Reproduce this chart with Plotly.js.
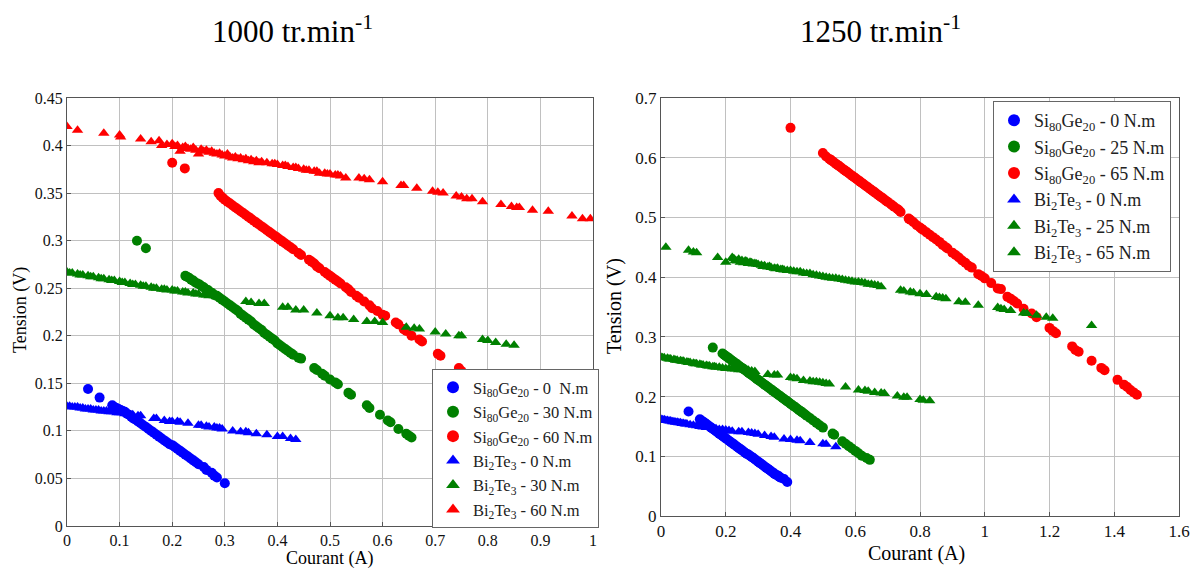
<!DOCTYPE html>
<html>
<head>
<meta charset="utf-8">
<script src="https://cdn.plot.ly/plotly-3.0.1.min.js"></script>
<style>html,body{margin:0;padding:0;background:#fff;}#chart{width:1191px;height:570px;}</style>
</head>
<body>
<div id="chart"></div>
<script>
// ---------- 1000 tr.min-1 ----------
const titleLeft = '1000 tr.min<sup>-1</sup>';
const titleRight = '1250 tr.min<sup>-1</sup>';
const xTitle = 'Courant (A)';
const yTitle = 'Tension (V)';

const namesLeft = ['Si<sub>80</sub>Ge<sub>20</sub> - 0  N.m','Si<sub>80</sub>Ge<sub>20</sub> - 30 N.m','Si<sub>80</sub>Ge<sub>20</sub> - 60 N.m','Bi<sub>2</sub>Te<sub>3</sub> - 0 N.m','Bi<sub>2</sub>Te<sub>3</sub> - 30 N.m','Bi<sub>2</sub>Te<sub>3</sub> - 60 N.m'];
const namesRight = ['Si<sub>80</sub>Ge<sub>20</sub> - 0 N.m','Si<sub>80</sub>Ge<sub>20</sub> - 25 N.m','Si<sub>80</sub>Ge<sub>20</sub> - 65 N.m','Bi<sub>2</sub>Te<sub>3</sub> - 0 N.m','Bi<sub>2</sub>Te<sub>3</sub> - 25 N.m','Bi<sub>2</sub>Te<sub>3</sub> - 65 N.m'];

const L_sg0_x = [0.04,0.062,0.086,0.09,0.094,0.098,0.102,0.106,0.11,0.114,0.118,0.122,0.126,0.13,0.135,0.14,0.145,0.15,0.155,0.16,0.165,0.17,0.175,0.18,0.185,0.19,0.195,0.2,0.205,0.21,0.215,0.22,0.225,0.23,0.235,0.24,0.245,0.25,0.26,0.265,0.275,0.28,0.285,0.3];
const L_sg0_y = [0.144,0.135,0.127,0.125,0.124,0.123,0.122,0.121,0.12,0.118,0.117,0.115,0.113,0.112,0.11,0.108,0.106,0.104,0.102,0.1,0.098,0.096,0.094,0.092,0.09,0.088,0.086,0.085,0.083,0.081,0.079,0.077,0.075,0.073,0.071,0.069,0.067,0.065,0.062,0.059,0.056,0.053,0.051,0.045];

const L_sg30_x = [0.133,0.15,0.225,0.228,0.232,0.236,0.24,0.244,0.248,0.252,0.256,0.26,0.264,0.268,0.272,0.276,0.28,0.285,0.29,0.295,0.3,0.305,0.31,0.315,0.32,0.325,0.33,0.335,0.34,0.345,0.35,0.355,0.36,0.365,0.37,0.375,0.38,0.385,0.39,0.395,0.4,0.405,0.41,0.415,0.42,0.425,0.43,0.44,0.445,0.47,0.475,0.485,0.49,0.5,0.51,0.515,0.535,0.54,0.57,0.575,0.595,0.61,0.615,0.63,0.645,0.65,0.655];
const L_sg30_y = [0.300,0.292,0.263,0.262,0.261,0.259,0.258,0.256,0.255,0.254,0.252,0.251,0.249,0.248,0.246,0.245,0.243,0.242,0.240,0.238,0.236,0.234,0.232,0.230,0.228,0.226,0.223,0.221,0.219,0.217,0.215,0.212,0.210,0.208,0.206,0.203,0.201,0.199,0.197,0.195,0.192,0.190,0.188,0.186,0.184,0.182,0.180,0.177,0.176,0.166,0.164,0.160,0.158,0.154,0.151,0.149,0.140,0.138,0.127,0.124,0.117,0.111,0.109,0.102,0.097,0.095,0.093];

const L_sg60_x = [0.2,0.224,0.288,0.292,0.296,0.3,0.305,0.31,0.315,0.32,0.325,0.33,0.335,0.34,0.345,0.35,0.355,0.36,0.365,0.37,0.375,0.38,0.385,0.39,0.395,0.4,0.405,0.41,0.415,0.42,0.425,0.43,0.44,0.445,0.46,0.465,0.47,0.475,0.48,0.49,0.495,0.5,0.505,0.51,0.515,0.52,0.53,0.535,0.54,0.55,0.555,0.565,0.575,0.58,0.59,0.6,0.605,0.625,0.63,0.64,0.645,0.655,0.67,0.675,0.705,0.71,0.745,0.75];
const L_sg60_y = [0.382,0.376,0.350,0.347,0.345,0.343,0.341,0.339,0.337,0.335,0.333,0.331,0.329,0.327,0.325,0.323,0.321,0.319,0.317,0.315,0.313,0.311,0.309,0.307,0.305,0.303,0.301,0.299,0.297,0.295,0.293,0.291,0.287,0.285,0.280,0.278,0.276,0.273,0.271,0.267,0.265,0.263,0.261,0.259,0.257,0.255,0.251,0.249,0.246,0.242,0.240,0.236,0.232,0.229,0.226,0.222,0.221,0.214,0.212,0.207,0.205,0.200,0.196,0.194,0.181,0.179,0.166,0.163];

const L_bt0_x = [0,0.005,0.01,0.015,0.02,0.025,0.03,0.035,0.04,0.045,0.05,0.055,0.06,0.065,0.07,0.075,0.08,0.085,0.09,0.095,0.1,0.105,0.11,0.115,0.125,0.135,0.14,0.165,0.17,0.185,0.195,0.2,0.21,0.215,0.23,0.25,0.255,0.265,0.27,0.28,0.285,0.29,0.295,0.315,0.33,0.34,0.345,0.36,0.38,0.4,0.41,0.425,0.435];
const L_bt0_y = [0.126,0.126,0.125,0.125,0.125,0.124,0.124,0.123,0.123,0.123,0.122,0.122,0.122,0.121,0.121,0.121,0.12,0.12,0.12,0.119,0.119,0.119,0.118,0.118,0.117,0.116,0.116,0.113,0.113,0.111,0.11,0.11,0.11,0.109,0.108,0.106,0.106,0.105,0.104,0.104,0.103,0.103,0.102,0.1,0.099,0.099,0.098,0.097,0.096,0.094,0.094,0.092,0.091];

const L_bt30_x = [0,0.005,0.01,0.02,0.025,0.03,0.04,0.045,0.05,0.06,0.065,0.07,0.08,0.085,0.09,0.1,0.105,0.11,0.12,0.125,0.13,0.14,0.145,0.15,0.16,0.165,0.17,0.18,0.185,0.19,0.2,0.205,0.21,0.22,0.225,0.23,0.24,0.245,0.25,0.26,0.265,0.27,0.28,0.285,0.29,0.34,0.35,0.365,0.375,0.41,0.42,0.435,0.45,0.475,0.5,0.515,0.525,0.545,0.57,0.585,0.6,0.645,0.66,0.67,0.7,0.72,0.745,0.75,0.79,0.8,0.815,0.835,0.85];
const L_bt30_y = [0.267,0.266,0.266,0.265,0.264,0.264,0.263,0.262,0.262,0.261,0.26,0.26,0.259,0.258,0.258,0.257,0.256,0.256,0.255,0.254,0.254,0.253,0.252,0.252,0.251,0.25,0.25,0.249,0.249,0.248,0.248,0.247,0.247,0.246,0.246,0.245,0.245,0.244,0.244,0.243,0.243,0.242,0.242,0.241,0.24,0.236,0.235,0.234,0.234,0.230,0.230,0.227,0.227,0.224,0.221,0.219,0.219,0.217,0.215,0.215,0.214,0.209,0.208,0.207,0.204,0.202,0.200,0.200,0.196,0.195,0.193,0.191,0.190];

const L_bt60_x = [0,0.02,0.07,0.1,0.102,0.14,0.16,0.175,0.18,0.19,0.2,0.205,0.21,0.215,0.22,0.225,0.23,0.235,0.24,0.245,0.25,0.255,0.26,0.265,0.27,0.275,0.28,0.285,0.29,0.295,0.3,0.305,0.31,0.315,0.32,0.325,0.33,0.335,0.34,0.345,0.35,0.355,0.36,0.365,0.37,0.38,0.39,0.395,0.4,0.41,0.415,0.42,0.43,0.435,0.44,0.45,0.455,0.46,0.47,0.475,0.48,0.49,0.495,0.5,0.51,0.515,0.52,0.53,0.555,0.565,0.575,0.6,0.635,0.64,0.665,0.695,0.705,0.715,0.74,0.75,0.76,0.77,0.79,0.825,0.845,0.855,0.86,0.885,0.915,0.96,0.98,0.995];
const L_bt60_y = [0.420,0.416,0.413,0.411,0.409,0.407,0.404,0.405,0.400,0.401,0.402,0.399,0.400,0.394,0.398,0.399,0.397,0.396,0.398,0.395,0.391,0.396,0.394,0.395,0.393,0.394,0.392,0.391,0.392,0.390,0.389,0.391,0.388,0.387,0.388,0.386,0.387,0.385,0.386,0.384,0.385,0.383,0.384,0.382,0.383,0.382,0.381,0.381,0.380,0.379,0.379,0.378,0.377,0.377,0.376,0.375,0.374,0.374,0.373,0.373,0.371,0.371,0.370,0.370,0.369,0.369,0.368,0.366,0.366,0.365,0.364,0.362,0.358,0.358,0.355,0.352,0.351,0.350,0.347,0.346,0.344,0.344,0.341,0.338,0.336,0.335,0.335,0.332,0.331,0.326,0.323,0.323];

// ---------- 1250 tr.min-1 ----------
const R_sg0_x = [0.085,0.12,0.125,0.13,0.135,0.14,0.145,0.15,0.155,0.16,0.165,0.17,0.175,0.18,0.185,0.19,0.195,0.2,0.205,0.21,0.215,0.22,0.225,0.23,0.235,0.24,0.245,0.25,0.255,0.26,0.265,0.27,0.275,0.28,0.285,0.29,0.295,0.3,0.305,0.31,0.315,0.32,0.325,0.33,0.335,0.34,0.345,0.35,0.355,0.36,0.365,0.37,0.38,0.39];
const R_sg0_y = [0.175,0.162,0.160,0.158,0.156,0.154,0.152,0.150,0.148,0.146,0.144,0.142,0.140,0.138,0.136,0.134,0.132,0.130,0.128,0.126,0.124,0.122,0.120,0.118,0.116,0.114,0.112,0.110,0.108,0.106,0.104,0.103,0.101,0.099,0.097,0.095,0.093,0.091,0.089,0.087,0.085,0.083,0.081,0.079,0.077,0.075,0.073,0.071,0.069,0.068,0.066,0.064,0.062,0.057];

const R_sg25_x = [0.16,0.19,0.195,0.2,0.205,0.21,0.215,0.22,0.225,0.23,0.235,0.24,0.245,0.25,0.255,0.26,0.265,0.27,0.275,0.28,0.285,0.29,0.295,0.3,0.305,0.31,0.315,0.32,0.325,0.33,0.335,0.34,0.345,0.35,0.355,0.36,0.365,0.37,0.375,0.38,0.385,0.39,0.395,0.4,0.405,0.41,0.415,0.42,0.425,0.43,0.435,0.44,0.445,0.45,0.46,0.47,0.48,0.49,0.5,0.53,0.535,0.56,0.57,0.58,0.59,0.6,0.61,0.62,0.635,0.645];
const R_sg25_y = [0.282,0.272,0.270,0.268,0.266,0.264,0.262,0.260,0.258,0.256,0.254,0.252,0.250,0.248,0.246,0.244,0.242,0.240,0.238,0.236,0.234,0.232,0.230,0.228,0.226,0.224,0.222,0.220,0.218,0.216,0.214,0.212,0.210,0.208,0.206,0.204,0.202,0.200,0.198,0.196,0.194,0.192,0.190,0.188,0.186,0.184,0.182,0.180,0.178,0.176,0.174,0.172,0.170,0.168,0.164,0.160,0.156,0.152,0.148,0.138,0.136,0.125,0.121,0.117,0.113,0.109,0.105,0.101,0.097,0.094];

const R_sg65_x = [0.4,0.5,0.51,0.52,0.525,0.53,0.535,0.54,0.545,0.55,0.555,0.56,0.565,0.57,0.575,0.58,0.585,0.59,0.595,0.6,0.605,0.61,0.615,0.62,0.625,0.63,0.635,0.64,0.645,0.65,0.655,0.66,0.665,0.67,0.675,0.68,0.685,0.69,0.695,0.7,0.71,0.715,0.72,0.73,0.735,0.74,0.765,0.77,0.78,0.79,0.8,0.805,0.81,0.82,0.83,0.84,0.85,0.86,0.87,0.88,0.885,0.9,0.91,0.92,0.93,0.94,0.95,0.96,0.98,0.99,1.0,1.02,1.04,1.05,1.07,1.08,1.09,1.1,1.12,1.145,1.16,1.2,1.21,1.22,1.27,1.28,1.29,1.33,1.36,1.37,1.41,1.43,1.44,1.45,1.46,1.47];
const R_sg65_y = [0.650,0.608,0.602,0.598,0.596,0.594,0.592,0.590,0.588,0.586,0.584,0.582,0.580,0.578,0.576,0.574,0.572,0.570,0.568,0.566,0.564,0.562,0.560,0.558,0.556,0.554,0.552,0.550,0.548,0.546,0.544,0.542,0.540,0.538,0.536,0.534,0.532,0.530,0.528,0.526,0.522,0.520,0.518,0.514,0.512,0.509,0.498,0.496,0.492,0.487,0.483,0.481,0.479,0.475,0.471,0.467,0.463,0.459,0.454,0.450,0.448,0.441,0.437,0.433,0.428,0.424,0.419,0.416,0.405,0.402,0.398,0.390,0.381,0.380,0.367,0.364,0.360,0.356,0.347,0.339,0.333,0.315,0.310,0.306,0.284,0.278,0.275,0.260,0.248,0.244,0.228,0.220,0.216,0.211,0.207,0.203];

const R_bt0_x = [0,0.005,0.01,0.015,0.02,0.025,0.03,0.035,0.04,0.045,0.05,0.055,0.06,0.065,0.07,0.075,0.08,0.09,0.1,0.11,0.12,0.13,0.14,0.15,0.16,0.17,0.18,0.19,0.2,0.21,0.22,0.24,0.25,0.27,0.28,0.29,0.3,0.32,0.34,0.35,0.38,0.4,0.42,0.43,0.46,0.5,0.51,0.54];
const R_bt0_y = [0.162,0.161,0.161,0.160,0.160,0.159,0.159,0.158,0.158,0.157,0.157,0.156,0.156,0.155,0.155,0.154,0.154,0.153,0.152,0.151,0.150,0.149,0.148,0.148,0.147,0.146,0.145,0.145,0.144,0.143,0.142,0.141,0.141,0.140,0.139,0.138,0.137,0.135,0.133,0.132,0.129,0.128,0.127,0.126,0.123,0.121,0.120,0.116];

const R_bt25_x = [0,0.005,0.01,0.02,0.025,0.03,0.04,0.045,0.05,0.06,0.065,0.07,0.08,0.085,0.09,0.1,0.105,0.11,0.12,0.125,0.13,0.14,0.145,0.15,0.16,0.165,0.17,0.18,0.19,0.2,0.21,0.22,0.23,0.24,0.25,0.26,0.27,0.28,0.29,0.33,0.35,0.36,0.4,0.41,0.42,0.44,0.46,0.47,0.48,0.49,0.5,0.51,0.52,0.57,0.61,0.63,0.64,0.66,0.68,0.69,0.73,0.75,0.76,0.8,0.81,0.83];
const R_bt25_y = [0.266,0.265,0.265,0.264,0.263,0.263,0.262,0.261,0.261,0.260,0.259,0.259,0.258,0.257,0.257,0.256,0.255,0.255,0.254,0.253,0.253,0.252,0.251,0.251,0.250,0.250,0.249,0.249,0.248,0.247,0.247,0.246,0.246,0.245,0.245,0.244,0.244,0.243,0.242,0.237,0.236,0.236,0.232,0.231,0.230,0.227,0.226,0.225,0.225,0.224,0.223,0.222,0.221,0.216,0.211,0.210,0.209,0.207,0.206,0.205,0.201,0.199,0.199,0.195,0.194,0.193];

const R_bt65_x = [0.015,0.085,0.1,0.11,0.175,0.2,0.22,0.225,0.23,0.235,0.24,0.245,0.25,0.255,0.26,0.265,0.27,0.275,0.28,0.285,0.29,0.295,0.3,0.31,0.315,0.32,0.33,0.335,0.34,0.35,0.355,0.36,0.37,0.375,0.38,0.39,0.4,0.41,0.42,0.43,0.44,0.45,0.46,0.47,0.48,0.49,0.5,0.51,0.52,0.53,0.54,0.55,0.56,0.57,0.58,0.59,0.6,0.61,0.62,0.63,0.64,0.65,0.66,0.67,0.68,0.74,0.75,0.77,0.78,0.8,0.82,0.85,0.86,0.87,0.88,0.92,0.94,0.98,1.04,1.05,1.06,1.08,1.12,1.13,1.16,1.19,1.21,1.33];
const R_bt65_y = [0.450,0.445,0.442,0.441,0.433,0.425,0.433,0.431,0.428,0.427,0.430,0.425,0.428,0.424,0.427,0.426,0.423,0.425,0.424,0.422,0.423,0.422,0.421,0.420,0.418,0.419,0.417,0.418,0.416,0.415,0.414,0.415,0.413,0.413,0.412,0.411,0.411,0.410,0.409,0.409,0.407,0.406,0.406,0.404,0.403,0.402,0.401,0.400,0.399,0.398,0.398,0.397,0.396,0.395,0.394,0.393,0.392,0.392,0.391,0.390,0.388,0.388,0.387,0.386,0.384,0.378,0.377,0.375,0.374,0.372,0.371,0.367,0.366,0.365,0.364,0.359,0.358,0.353,0.349,0.347,0.346,0.344,0.340,0.339,0.336,0.333,0.331,0.319];

const BLUE = '#0000ff', GREEN = '#008000', RED = '#ff0000';
const FONT = 'Liberation Serif';

function tr(x, y, name, color, symbol, xa, ya, leg) {
  return {x: x, y: y, name: name, type: 'scatter', mode: 'markers',
    marker: {color: color, symbol: symbol, size: 10, line: {width: 0}},
    xaxis: xa, yaxis: ya, legend: leg};
}

const data = [
  tr(L_sg0_x, L_sg0_y, namesLeft[0], BLUE, 'circle', 'x', 'y', 'legend'),
  tr(L_sg30_x, L_sg30_y, namesLeft[1], GREEN, 'circle', 'x', 'y', 'legend'),
  tr(L_sg60_x, L_sg60_y, namesLeft[2], RED, 'circle', 'x', 'y', 'legend'),
  tr(L_bt0_x, L_bt0_y, namesLeft[3], BLUE, 'triangle-up', 'x', 'y', 'legend'),
  tr(L_bt30_x, L_bt30_y, namesLeft[4], GREEN, 'triangle-up', 'x', 'y', 'legend'),
  tr(L_bt60_x, L_bt60_y, namesLeft[5], RED, 'triangle-up', 'x', 'y', 'legend'),
  tr(R_sg0_x, R_sg0_y, namesRight[0], BLUE, 'circle', 'x2', 'y2', 'legend2'),
  tr(R_sg25_x, R_sg25_y, namesRight[1], GREEN, 'circle', 'x2', 'y2', 'legend2'),
  tr(R_sg65_x, R_sg65_y, namesRight[2], RED, 'circle', 'x2', 'y2', 'legend2'),
  tr(R_bt0_x, R_bt0_y, namesRight[3], BLUE, 'triangle-up', 'x2', 'y2', 'legend2'),
  tr(R_bt25_x, R_bt25_y, namesRight[4], GREEN, 'triangle-up', 'x2', 'y2', 'legend2'),
  tr(R_bt65_x, R_bt65_y, namesRight[5], GREEN, 'triangle-up', 'x2', 'y2', 'legend2')
];

const W = 1191, H = 570;
function ax(size, extra) {
  return Object.assign({
    showgrid: true, gridcolor: '#c0c0c0', gridwidth: 1,
    showline: true, linecolor: '#555', linewidth: 1, mirror: true,
    ticks: 'inside', ticklen: 4, tickcolor: '#555',
    zeroline: false, tickfont: {family: FONT, size: size, color: '#111'},
    fixedrange: true
  }, extra);
}

function legendStyle(size) {
  return {
    bgcolor: '#ffffff', bordercolor: '#666', borderwidth: 1,
    font: {family: FONT, size: size, color: '#222'},
    xanchor: 'left', yanchor: 'top', tracegroupgap: 0, itemsizing: 'constant'
  };
}

const layout = {
  width: W, height: H,
  margin: {l: 0, r: 0, t: 0, b: 0},
  font: {family: FONT, size: 16, color: '#111'},
  paper_bgcolor: '#fff', plot_bgcolor: '#fff',
  showlegend: true,
  xaxis: ax(16, {domain: [67/W, 593/W], range: [0, 1], dtick: 0.1, anchor: 'y'}),
  yaxis: ax(16, {domain: [1-526/H, 1-98/H], range: [0, 0.45], dtick: 0.05, anchor: 'x'}),
  xaxis2: ax(17, {domain: [661/W, 1179/W], range: [0, 1.6], dtick: 0.2, anchor: 'y2'}),
  yaxis2: ax(17, {domain: [1-516/H, 1-98/H], range: [0, 0.7], dtick: 0.1, anchor: 'x2'}),
  legend: Object.assign({x: 432/W, y: 1-369/H}, legendStyle(16.5)),
  legend2: Object.assign({x: 993/W, y: 1-101/H}, legendStyle(18)),
  annotations: [
    {text: titleLeft, xref: 'paper', yref: 'paper', x: 292/W, y: 1-30/H, showarrow: false, xanchor: 'center', yanchor: 'middle', font: {family: FONT, size: 31, color: '#000'}},
    {text: titleRight, xref: 'paper', yref: 'paper', x: 880/W, y: 1-30/H, showarrow: false, xanchor: 'center', yanchor: 'middle', font: {family: FONT, size: 31, color: '#000'}},
    {text: xTitle, xref: 'paper', yref: 'paper', x: 329/W, y: 1-558/H, showarrow: false, xanchor: 'center', yanchor: 'middle', font: {family: FONT, size: 18, color: '#000'}},
    {text: xTitle, xref: 'paper', yref: 'paper', x: 916/W, y: 1-553/H, showarrow: false, xanchor: 'center', yanchor: 'middle', font: {family: FONT, size: 20, color: '#000'}},
    {text: yTitle, xref: 'paper', yref: 'paper', x: 20/W, y: 1-310/H, showarrow: false, textangle: -90, xanchor: 'center', yanchor: 'middle', font: {family: FONT, size: 18, color: '#000'}},
    {text: yTitle, xref: 'paper', yref: 'paper', x: 614/W, y: 1-306/H, showarrow: false, textangle: -90, xanchor: 'center', yanchor: 'middle', font: {family: FONT, size: 20, color: '#000'}}
  ]
};

Plotly.newPlot('chart', data, layout, {displayModeBar: false, staticPlot: true});
</script>
</body>
</html>
